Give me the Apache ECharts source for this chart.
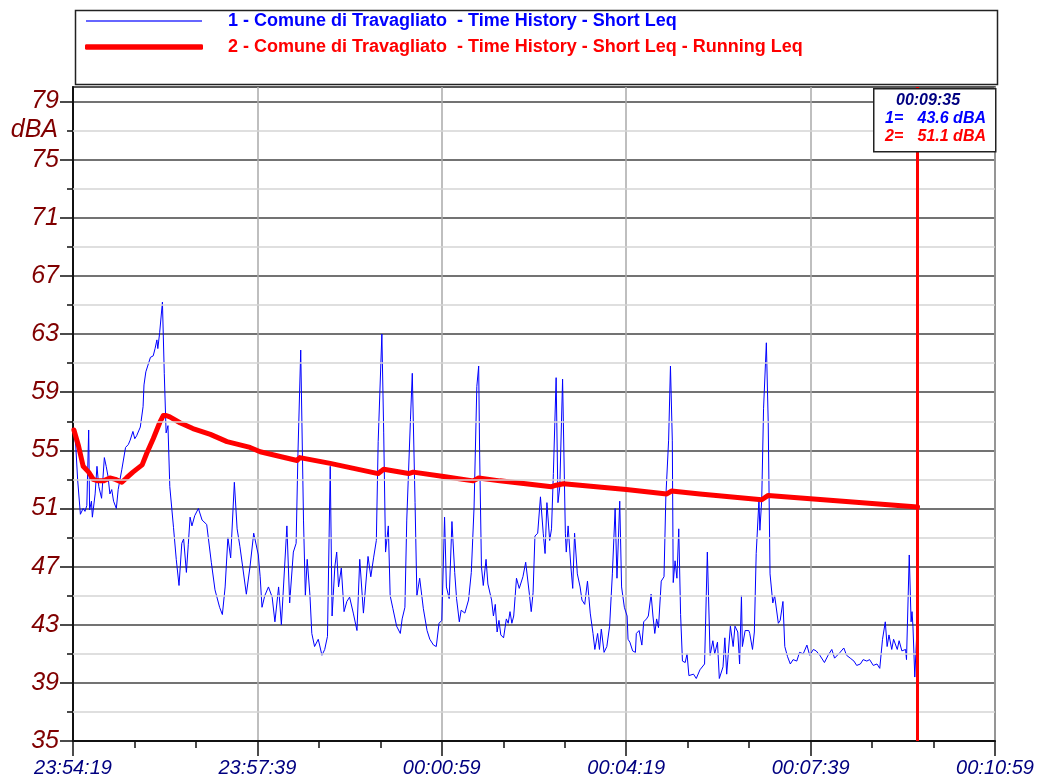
<!DOCTYPE html>
<html>
<head>
<meta charset="utf-8">
<script src="https://cdn.jsdelivr.net/npm/echarts@6/dist/echarts.min.js"></script>
<style>
html,body{margin:0;padding:0;background:#fff;}
#chart{width:1039px;height:779px;}
</style>
</head>
<body>
<div id="chart"></div>
<script>
// ---- data ----
const startClock = 23 * 3600 + 54 * 60 + 19; // 23:54:19
const seriesNames = [
  '1 - Comune di Travagliato  - Time History - Short Leq',
  '2 - Comune di Travagliato  - Time History - Short Leq - Running Leq'
];
const yTicks = [35, 39, 43, 47, 51, 55, 59, 63, 67, 71, 75, 79];
const yMinorTicks = [37, 41, 45, 49, 53, 57, 61, 65, 69, 73, 77];
const yUnitLabel = 'dBA';
const cursorTime = 916; // 00:09:35
const cursorLabel = '00:09:35';
const cursorValues = ['43.6 dBA', '51.1 dBA'];

// seconds from 23:54:19
const shortTimes = [1,3,5,8,11,13,15,17,18,20,21,24,26,28,31,34,36,38,40,42,44,47,49,51,53,57,60,62,65,67,69,73,76,77,79,81,84,87,89,91,92,94,97,99,101,103,105,109,112,115,118,120,123,125,127,129,132,136,140,145,150,154,159,162,165,168,171,175,178,181,184,188,192,196,197,201,203,205,208,212,216,219,223,226,232,235,239,242,244,247,250,252,254,257,259,262,266,270,273,276,279,281,284,286,288,291,294,297,300,304,308,311,315,320,323,326,329,331,335,337,339,342,344,347,351,355,357,360,362,366,368,371,373,376,380,384,387,391,394,397,400,403,405,408,411,414,416,419,421,425,429,432,435,438,440,441,443,445,448,450,454,456,458,460,462,464,467,470,472,474,476,478,481,484,488,491,495,497,499,501,504,507,510,512,514,517,519,521,524,526,528,531,534,535,537,540,542,544,547,550,552,555,558,561,564,566,569,571,573,576,579,582,585,588,590,593,595,598,601,602,604,607,610,611,614,617,619,622,624,627,629,631,633,635,638,641,643,646,648,650,651,653,655,657,659,661,664,666,668,673,676,680,685,688,691,694,696,699,701,705,707,709,713,716,718,721,723,725,726,729,733,734,737,739,741,744,745,747,749,751,752,754,756,759,761,765,767,770,772,775,778,781,785,788,792,796,799,803,806,810,815,819,823,826,832,836,839,843,847,850,854,857,861,864,868,872,875,878,881,883,885,888,890,894,896,899,903,904,907,909,910,911,913,916];
const shortLevels = [56.4,55.3,53.0,50.6,51.0,50.8,51.2,56.4,50.9,51.5,50.4,52.0,53.9,52.5,51.7,54.5,53.9,53.2,52.0,52.3,51.5,51.0,52.3,52.2,53.7,55.2,55.4,55.7,56.3,55.8,56.0,56.6,58.0,59.5,60.4,60.8,61.4,61.5,62.0,62.6,62.0,63.1,65.2,60.3,56.2,56.7,52.5,49.7,47.5,45.7,48.6,48.9,46.6,48.5,50.4,49.8,50.5,51.0,50.2,49.9,47.3,45.4,44.2,43.7,45.6,49.0,47.6,52.8,49.6,48.4,47.0,45.1,47.0,49.3,49.0,47.8,46.3,44.2,45.0,45.6,44.9,43.2,45.6,43.0,49.8,44.5,48.0,48.6,54.8,61.9,50.2,45.0,47.5,45.0,42.4,41.5,42.0,40.9,41.3,42.2,53.9,43.6,47.0,48.0,45.6,46.9,43.9,44.6,44.9,43.8,42.6,47.5,43.8,47.7,46.3,47.6,48.8,55.6,63.0,56.2,48.0,49.8,45.0,44.1,42.9,42.4,43.4,44.2,50.2,57.1,60.3,51.4,45.0,46.2,44.1,42.6,42.0,41.6,41.5,43.1,43.3,50.4,45.6,44.8,50.1,46.6,44.8,43.2,44.0,43.8,44.7,46.6,51.1,59.4,60.8,55.0,47.0,45.7,47.5,45.8,44.7,43.6,44.4,42.5,43.3,42.3,42.1,43.4,43.1,43.9,43.1,43.6,46.2,45.5,46.3,47.3,45.1,43.9,45.2,49.1,49.3,51.8,49.3,47.9,51.4,48.8,49.6,53.4,60.0,51.4,52.5,59.9,49.3,48.0,49.8,47.0,45.5,49.3,46.5,45.6,44.7,44.4,46.0,43.8,42.4,41.3,42.4,41.3,42.7,41.1,41.5,42.9,46.5,51.0,46.2,51.5,45.6,44.2,43.6,42.0,41.8,41.2,41.1,42.4,42.6,41.6,43.2,43.4,43.6,45.1,43.6,42.4,43.4,42.8,46.0,46.3,51.8,55.7,60.8,55.7,45.9,47.4,46.2,49.6,43.7,40.5,40.4,41.0,39.5,39.6,39.3,39.9,40.3,48.0,40.9,41.9,41.0,41.8,39.3,40.1,42.1,39.6,42.9,41.5,42.9,42.5,40.3,45.0,41.5,42.6,42.6,42.4,41.3,42.5,47.9,51.6,49.5,51.6,57.9,57.9,62.4,57.0,46.5,44.5,45.0,43.1,43.3,44.6,41.5,40.8,40.3,40.6,40.5,41.1,41.0,41.6,40.9,41.3,41.2,40.9,40.4,40.9,41.3,40.7,41.1,41.4,40.9,40.7,40.5,40.2,40.3,40.6,40.5,40.6,40.2,40.3,40.0,42.0,43.2,41.5,42.3,41.3,42.0,41.3,41.9,41.2,41.3,40.6,47.8,43.2,43.9,42.9,39.4,43.6];

const runningTimes = [1,6,11,17,22,27,33,40,46,53,58,65,75,80,87,94,98,101,105,116,130,149,167,192,203,243,246,279,331,337,364,369,402,434,440,463,519,524,532,600,644,649,680,747,754,916];
const runningLevels = [56.4,55.3,53.9,53.5,53.0,52.9,52.9,53.1,53.0,52.8,53.1,53.5,54.0,54.8,55.8,56.9,57.4,57.4,57.3,56.9,56.5,56.1,55.6,55.2,54.9,54.3,54.5,54.1,53.4,53.7,53.4,53.5,53.2,52.9,53.1,52.9,52.5,52.6,52.7,52.3,52.0,52.2,52.0,51.6,51.9,51.1];

// ---- helpers ----
function clock(t) {
  let s = ((startClock + t) % 86400 + 86400) % 86400;
  const h = Math.floor(s / 3600), m = Math.floor((s % 3600) / 60), sec = Math.round(s % 60);
  const p = n => String(n).padStart(2, '0');
  return p(h) + ':' + p(m) + ':' + p(sec);
}
const shortData = shortTimes.map((t, i) => [t, shortLevels[i]]);
const runningData = runningTimes.map((t, i) => [t, runningLevels[i]]);

const FONT = '"Liberation Sans", Arial, sans-serif';
const DARKRED = '#800000';
const chart = echarts.init(document.getElementById('chart'), null, {renderer: 'canvas'});

const option = {
  animation: false,
  backgroundColor: '#fff',
  grid: {left: 73, right: 44, top: 87, bottom: 38, show: true, borderColor: '#222', borderWidth: 1.5, containLabel: false},
  legend: [
    {
      left: 86, top: 12, padding: 0, icon: 'rect', itemWidth: 116, itemHeight: 1.3, selectedMode: false,
      textStyle: {color: '#0000FF', fontFamily: FONT, fontSize: 18, fontWeight: 'bold', padding: [0, 0, 0, 21], lineHeight: 18},
      data: [{name: seriesNames[0], itemStyle: {color: '#3333FF'}}]
    },
    {
      left: 85, top: 38, padding: 0, icon: 'roundRect', itemWidth: 118, itemHeight: 5.5, selectedMode: false,
      textStyle: {color: '#FF0000', fontFamily: FONT, fontSize: 18, fontWeight: 'bold', padding: [0, 0, 0, 20], lineHeight: 18},
      data: [{name: seriesNames[1], itemStyle: {color: '#FF0000'}}]
    }
  ],
  xAxis: {
    type: 'value', min: 0, max: 1000, interval: 200,
    axisLine: {lineStyle: {color: '#111', width: 2}},
    axisTick: {length: 15, lineStyle: {color: '#111', width: 1.5}},
    minorTick: {show: true, splitNumber: 3, length: 7, lineStyle: {color: '#111', width: 1.5}},
    splitLine: {show: true, lineStyle: {color: '#aaa', width: 1.5}},
    axisLabel: {
      formatter: v => clock(v), color: '#000080', fontStyle: 'italic', fontFamily: FONT,
      fontSize: 20, margin: 17, showMinLabel: true, showMaxLabel: true
    }
  },
  yAxis: [
    {
      type: 'value', min: 35, max: 80, interval: 4,
      axisLine: {show: true, lineStyle: {color: '#111', width: 2}},
      axisTick: {show: true, length: 13, customValues: yTicks, lineStyle: {color: '#111', width: 1.5}},
      splitLine: {show: true, lineStyle: {color: '#444', width: 1.5}},
      axisLabel: {
        customValues: yTicks,
        formatter: v => String(v),
        color: DARKRED, fontStyle: 'italic', fontFamily: FONT, fontSize: 25, margin: 14
      }
    },
    {
      type: 'value', min: 35, max: 80, interval: 2, position: 'left',
      axisLine: {show: false},
      axisTick: {show: true, length: 6, customValues: yMinorTicks, lineStyle: {color: '#111', width: 1.5}},
      splitLine: {show: false},
      axisLabel: {show: false}
    }
  ],
  series: [
    {
      name: 'minor-grid', type: 'line', data: [], silent: true, z: 1,
      markLine: {
        silent: true, symbol: ['none', 'none'], label: {show: false},
        lineStyle: {color: '#d4d4d4', width: 1.5, type: 'solid'},
        emphasis: {disabled: true},
        data: yMinorTicks.map(v => ({yAxis: v}))
      }
    },
    {
      name: seriesNames[0], type: 'line', data: shortData, symbol: 'none', showSymbol: false,
      lineStyle: {color: '#0000FF', width: 1}, itemStyle: {color: '#0000FF'}, z: 3
    },
    {
      name: seriesNames[1], type: 'line', data: runningData, symbol: 'none', showSymbol: false,
      lineStyle: {color: '#FF0000', width: 5, cap: 'round', join: 'round'}, itemStyle: {color: '#FF0000'}, z: 4,
      markLine: {
        silent: true, symbol: ['none', 'none'], label: {show: false},
        lineStyle: {color: '#FF0000', width: 3, type: 'solid'},
        emphasis: {disabled: true},
        data: [{xAxis: cursorTime}]
      }
    }
  ],
  graphic: [
    {type: 'rect', left: 73, top: 8, shape: {width: 922, height: 74},
     style: {fill: 'none', stroke: '#222', lineWidth: 1.5}, z: 100, silent: true},
    {type: 'text', x: 58, y: 130, z: 100, silent: true,
     style: {text: yUnitLabel, fill: DARKRED, font: 'italic 25px ' + FONT, align: 'right', verticalAlign: 'middle'}},
    {type: 'rect', left: 873, top: 88, shape: {width: 122, height: 63},
     style: {fill: '#fff', stroke: '#222', lineWidth: 1.5}, z: 100, silent: true},
    {type: 'text', x: 928, y: 101, z: 101, silent: true,
     style: {text: cursorLabel, fill: '#000080', font: 'italic bold 16px ' + FONT, align: 'center', verticalAlign: 'middle'}},
    {type: 'text', x: 885, y: 119, z: 101, silent: true,
     style: {text: '1=', fill: '#0000FF', font: 'italic bold 16px ' + FONT, align: 'left', verticalAlign: 'middle'}},
    {type: 'text', x: 986, y: 119, z: 101, silent: true,
     style: {text: cursorValues[0], fill: '#0000FF', font: 'italic bold 16px ' + FONT, align: 'right', verticalAlign: 'middle'}},
    {type: 'text', x: 885, y: 137, z: 101, silent: true,
     style: {text: '2=', fill: '#FF0000', font: 'italic bold 16px ' + FONT, align: 'left', verticalAlign: 'middle'}},
    {type: 'text', x: 986, y: 137, z: 101, silent: true,
     style: {text: cursorValues[1], fill: '#FF0000', font: 'italic bold 16px ' + FONT, align: 'right', verticalAlign: 'middle'}}
  ]
};
chart.setOption(option);
</script>
</body>
</html>
